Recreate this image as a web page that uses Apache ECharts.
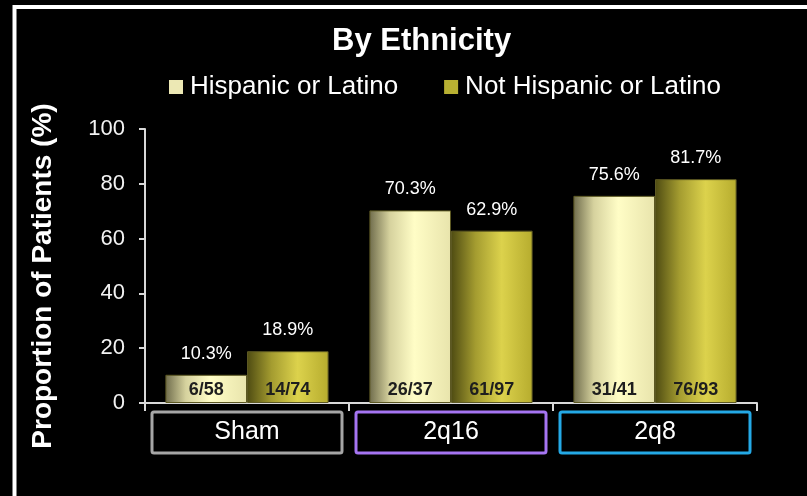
<!DOCTYPE html>
<html>
<head>
<meta charset="utf-8">
<script src="https://cdn.jsdelivr.net/npm/echarts@6/dist/echarts.min.js"></script>
<style>
html,body{margin:0;padding:0;background:#000;}
#chart{width:807px;height:496px;}
</style>
</head>
<body>
<div id="chart"></div>
<script>
// ---- data ----
const categories = ['Sham', '2q16', '2q8'];
const seriesNames = ['Hispanic or Latino', 'Not Hispanic or Latino'];
const hispanicPct = [10.3, 70.3, 75.6];
const notHispanicPct = [18.9, 62.9, 81.7];
const hispanicFrac = ['6/58', '26/37', '31/41'];
const notHispanicFrac = ['14/74', '61/97', '76/93'];
const yMin = 0, yMax = 100, yInterval = 20;

// ---- styles ----
const FONT = '"Liberation Sans", Arial, sans-serif';
const boxColors = ['#a6a6a6', '#a575f2', '#24a9e6'];
const legendColors = ['#ece8b4', '#b8b032'];

const chart = echarts.init(document.getElementById('chart'), null, {renderer: 'canvas'});

const hispGrad = new echarts.graphic.LinearGradient(0, 0, 1, 0, [
  {offset: 0, color: '#6f6c4c'},
  {offset: 0.25, color: '#d6d29e'},
  {offset: 0.55, color: '#fffdc6'},
  {offset: 1, color: '#e8e4ac'}
]);
const notGrad = new echarts.graphic.LinearGradient(0, 0, 1, 0, [
  {offset: 0, color: '#4e4b12'},
  {offset: 0.3, color: '#a49c30'},
  {offset: 0.62, color: '#dcd24c'},
  {offset: 1, color: '#b6ac2e'}
]);

const rich = {};
boxColors.forEach((c, i) => {
  rich['c' + i] = {
    color: '#ffffff', fontSize: 25, fontFamily: FONT,
    width: 190, height: 41, align: 'center', verticalAlign: 'middle',
    borderColor: c, borderWidth: 3, borderRadius: 2
  };
});

function mainSeries(name, stack, values, fracs, grad) {
  return {
    name: name, type: 'bar', stack: stack, data: values,
    barGap: '0%', barCategoryGap: '20%',
    itemStyle: {color: grad, borderColor: '#5c5822', borderWidth: 1},
    label: {
      show: true, position: 'insideBottom', distance: 4,
      formatter: p => fracs[p.dataIndex],
      color: '#1e1e1e', fontSize: 18, fontWeight: 'bold', fontFamily: FONT
    },
    emphasis: {disabled: true}
  };
}
function pctSeries(name, stack, values) {
  return {
    name: name + ' pct', type: 'bar', stack: stack,
    data: values.map(() => 0),
    itemStyle: {color: 'transparent', borderWidth: 0},
    label: {
      show: true, position: 'top', distance: 12,
      formatter: p => values[p.dataIndex].toFixed(1) + '%',
      color: '#ffffff', fontSize: 18, fontFamily: FONT
    },
    emphasis: {disabled: true}, z: 5
  };
}

chart.setOption({
  backgroundColor: '#000000',
  animation: false,
  title: {
    text: 'By Ethnicity', left: 332, top: 26, padding: 0,
    textStyle: {color: '#ffffff', fontSize: 31, fontWeight: 'bold', fontFamily: FONT}
  },
  legend: {
    data: seriesNames.map((n, i) => ({name: n, itemStyle: {color: legendColors[i], borderWidth: 0}})),
    left: 169, top: 74, padding: 0,
    itemWidth: 14, itemHeight: 14, itemGap: 46, icon: 'rect',
    textStyle: {color: '#ffffff', fontSize: 26, fontFamily: FONT, padding: [0, 0, 0, 2]},
    selectedMode: false
  },
  grid: {left: 145, right: 50, top: 129, bottom: 93, containLabel: false},
  xAxis: {
    type: 'category', data: categories,
    axisLine: {lineStyle: {color: '#d9d9d9', width: 2}},
    axisTick: {show: true, length: 8, lineStyle: {color: '#d9d9d9', width: 2}},
    axisLabel: {
      margin: 9, interval: 0,
      formatter: (v, i) => '{c' + i + '|' + v + '}',
      rich: rich
    },
    splitLine: {show: false}
  },
  yAxis: {
    type: 'value', min: yMin, max: yMax, interval: yInterval,
    name: 'Proportion of Patients (%)', nameLocation: 'middle', nameGap: 88,
    nameTextStyle: {color: '#ffffff', fontSize: 28, fontWeight: 'bold', fontFamily: FONT, padding: [0, 20, 0, 0]},
    axisLine: {show: true, lineStyle: {color: '#d9d9d9', width: 2}},
    axisTick: {show: true, length: 6, lineStyle: {color: '#d9d9d9', width: 2}},
    axisLabel: {color: '#f2f2f2', fontSize: 22, fontFamily: FONT, margin: 20},
    splitLine: {show: false}
  },
  graphic: [{
    type: 'rect', silent: true, z: 100,
    shape: {x: 14.5, y: 7, width: 840, height: 540},
    style: {fill: 'none', stroke: '#ffffff', lineWidth: 4}
  }],
  series: [
    mainSeries(seriesNames[0], 'h', hispanicPct, hispanicFrac, hispGrad),
    pctSeries(seriesNames[0], 'h', hispanicPct),
    mainSeries(seriesNames[1], 'n', notHispanicPct, notHispanicFrac, notGrad),
    pctSeries(seriesNames[1], 'n', notHispanicPct)
  ]
});
</script>
</body>
</html>
